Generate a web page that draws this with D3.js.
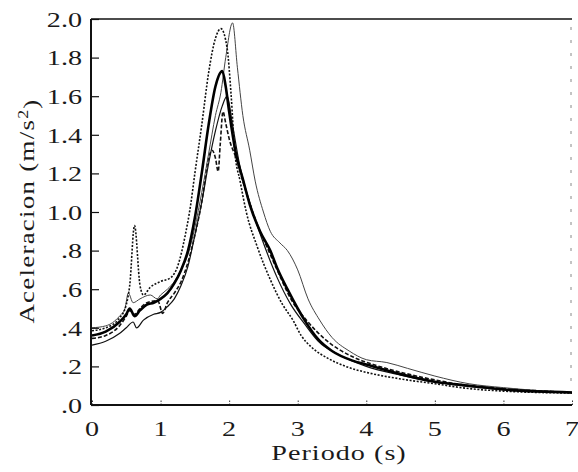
<!DOCTYPE html>
<html><head><meta charset="utf-8">
<script src="https://cdn.jsdelivr.net/npm/d3@7"></script>
<style>
html,body{margin:0;padding:0;background:#fff;}
text{font-family:"Liberation Serif","DejaVu Serif",serif;fill:#1a1a1a;}
</style></head>
<body><svg id="c" width="578" height="472"></svg>
<script>
// Data (period s, acceleration m/s^2)
const xTicks = [0,1,2,3,4,5,6,7];
const yTicks = [0,0.2,0.4,0.6,0.8,1.0,1.2,1.4,1.6,1.8,2.0];
const yTickLabels = [".0",".2",".4",".6",".8","1.0","1.2","1.4","1.6","1.8","2.0"];

const seriesDotted = [[0,0.385],[0.2,0.40],[0.4,0.45],[0.5,0.52],[0.55,0.62],[0.62,0.93],[0.7,0.62],[0.75,0.57],[0.85,0.61],[1.0,0.64],[1.15,0.66],[1.25,0.72],[1.36,0.88],[1.44,1.04],[1.5,1.2],[1.6,1.45],[1.7,1.72],[1.8,1.9],[1.88,1.95],[1.97,1.85],[2.03,1.6],[2.08,1.32],[2.16,1.16],[2.25,1.0],[2.41,0.82],[2.6,0.65],[2.78,0.52],[2.93,0.44],[3.05,0.36],[3.2,0.30],[3.45,0.24],[3.7,0.20],[4.05,0.165],[4.5,0.135],[5.0,0.11],[5.5,0.085],[6.0,0.072],[7.0,0.062]];

const seriesThin = [[0,0.40],[0.2,0.41],[0.4,0.46],[0.48,0.50],[0.53,0.58],[0.6,0.53],[0.7,0.55],[0.85,0.57],[0.95,0.55],[1.0,0.57],[1.1,0.60],[1.2,0.64],[1.3,0.70],[1.4,0.78],[1.5,0.92],[1.6,1.10],[1.7,1.30],[1.8,1.50],[1.88,1.62],[1.95,1.80],[2.05,1.98],[2.12,1.75],[2.2,1.5],[2.3,1.32],[2.38,1.16],[2.5,1.0],[2.6,0.9],[2.74,0.84],[2.85,0.80],[3.0,0.70],[3.15,0.55],[3.32,0.44],[3.5,0.35],[3.75,0.28],[4.0,0.235],[4.3,0.22],[4.6,0.19],[5.0,0.15],[5.5,0.11],[6.0,0.09],[6.5,0.075],[7.0,0.065]];

const seriesMean = [[0,0.36],[0.2,0.38],[0.4,0.43],[0.5,0.47],[0.55,0.50],[0.62,0.46],[0.7,0.49],[0.8,0.52],[0.9,0.53],[1.0,0.55],[1.1,0.58],[1.2,0.63],[1.3,0.70],[1.4,0.80],[1.5,0.97],[1.6,1.20],[1.7,1.45],[1.8,1.65],[1.9,1.73],[1.95,1.65],[2.0,1.52],[2.1,1.30],[2.2,1.17],[2.3,1.04],[2.45,0.90],[2.6,0.80],[2.7,0.71],[2.85,0.60],[3.0,0.50],[3.1,0.44],[3.3,0.34],[3.5,0.28],[3.8,0.23],[4.0,0.21],[4.5,0.16],[5.0,0.12],[5.5,0.10],[6.0,0.08],[7.0,0.065]];

const seriesDashed = [[0,0.345],[0.2,0.36],[0.4,0.41],[0.5,0.46],[0.55,0.49],[0.62,0.47],[0.7,0.50],[0.8,0.53],[0.96,0.54],[1.03,0.475],[1.1,0.53],[1.2,0.58],[1.3,0.64],[1.4,0.74],[1.5,0.88],[1.6,1.05],[1.7,1.28],[1.75,1.32],[1.8,1.28],[1.84,1.21],[1.87,1.35],[1.91,1.52],[1.95,1.46],[2.0,1.38],[2.1,1.28],[2.25,1.1],[2.45,0.9],[2.55,0.82],[2.7,0.70],[2.9,0.55],[3.15,0.43],[3.4,0.34],[3.8,0.25],[4.1,0.21],[4.5,0.17],[5.0,0.13],[5.5,0.10],[6.0,0.085],[7.0,0.065]];

const seriesLow = [[0,0.31],[0.2,0.33],[0.4,0.37],[0.5,0.40],[0.6,0.43],[0.65,0.40],[0.75,0.44],[0.9,0.47],[1.0,0.48],[1.1,0.51],[1.2,0.55],[1.3,0.62],[1.4,0.72],[1.5,0.88],[1.6,1.05],[1.7,1.25],[1.8,1.42],[1.9,1.55],[1.97,1.60],[2.05,1.45],[2.15,1.25],[2.3,1.05],[2.52,0.82],[2.7,0.66],[2.9,0.52],[3.1,0.42],[3.3,0.33],[3.6,0.26],[4.0,0.20],[4.5,0.155],[5.0,0.12],[5.5,0.095],[6.0,0.08],[7.0,0.063]];

const svg = d3.select("#c");
const L = 91, R = 572, T = 19, B = 405;
const x = d3.scaleLinear().domain([0,7]).range([92,R]);
const y = d3.scaleLinear().domain([0,2]).range([B,T]);
const SX = 1.28; // horizontal stretch of the scanned serif glyphs

// frame: top solid, right faint dashed
svg.append("line").attr("x1",L).attr("x2",R).attr("y1",T).attr("y2",T)
  .attr("stroke","#111").attr("stroke-width",1.6);
svg.append("line").attr("x1",R-1).attr("x2",R-1).attr("y1",T+8).attr("y2",B-20)
  .attr("stroke","#888").attr("stroke-width",1).attr("stroke-dasharray","3,10");

// curves
const line = d3.line().x(d=>x(d[0])).y(d=>y(d[1])).curve(d3.curveMonotoneX);
const styles = [
  {d:seriesLow, w:1.2, c:"#111", dash:null},
  {d:seriesDashed, w:1.6, c:"#111", dash:"4,2"},
  {d:seriesThin, w:1.0, c:"#444", dash:null},
  {d:seriesDotted, w:1.6, c:"#111", dash:"2,1.6"},
  {d:seriesMean, w:2.6, c:"#000", dash:null}
];
styles.forEach(s=>{
  svg.append("path").attr("d",line(s.d)).attr("fill","none")
    .attr("stroke",s.c).attr("stroke-width",s.w)
    .attr("stroke-dasharray",s.dash).attr("stroke-linejoin","round");
});

// left axis
const yAxis = d3.axisRight(y).tickValues(yTicks).tickSize(8).tickFormat("");
const gy = svg.append("g").attr("transform",`translate(${L},0)`).call(yAxis);
gy.select(".domain").remove();
gy.selectAll(".tick line").attr("stroke","#111").attr("stroke-width",1.2);
svg.append("line").attr("x1",L).attr("x2",L).attr("y1",T).attr("y2",B)
  .attr("stroke","#111").attr("stroke-width",2);
svg.selectAll(".ylab").data(yTicks).enter().append("text")
  .attr("transform",d=>`translate(82,${y(d)}) scale(${SX},1)`)
  .attr("dy","0.35em").attr("text-anchor","end").attr("font-size",22)
  .text((d,i)=>yTickLabels[i]);

// bottom axis
const xAxis = d3.axisTop(x).tickValues(xTicks).tickSize(6).tickFormat("");
const gx = svg.append("g").attr("transform",`translate(0,${B})`).call(xAxis);
gx.select(".domain").remove();
gx.selectAll(".tick line").attr("stroke","#333").attr("stroke-width",1).attr("stroke-dasharray","1.5,1.5");
svg.append("line").attr("x1",L).attr("x2",R).attr("y1",B).attr("y2",B)
  .attr("stroke","#111").attr("stroke-width",2);
svg.selectAll(".xlab").data(xTicks).enter().append("text")
  .attr("transform",d=>`translate(${x(d)},428) scale(${SX},1)`)
  .attr("dy","0.35em").attr("text-anchor","middle").attr("font-size",22)
  .text(d=>d);

// titles
svg.append("text").attr("transform",`translate(339,452) scale(${SX},1)`)
  .attr("dy","0.35em").attr("text-anchor","middle").attr("font-size",22).attr("letter-spacing",0.8)
  .text("Periodo (s)");
const yt = svg.append("text").attr("transform",`translate(27,211) rotate(-90) scale(${SX},1)`)
  .attr("text-anchor","middle").attr("dy","0.35em").attr("font-size",21).attr("letter-spacing",1);
yt.append("tspan").text("Aceleracion (m/s");
yt.append("tspan").attr("dy","-0.45em").attr("font-size",14).text("2");
yt.append("tspan").attr("dy","0.45em").text(")");
</script></body></html>
